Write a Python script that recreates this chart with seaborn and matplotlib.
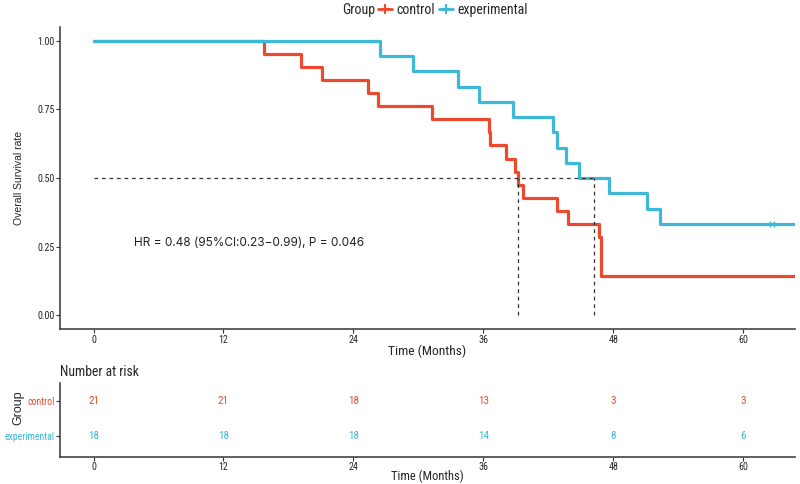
import pandas as pd
import matplotlib
matplotlib.use("Agg")
import matplotlib.pyplot as plt
from matplotlib.lines import Line2D
import seaborn as sns

# Kaplan-Meier step curves (months, survival)
ctrl_time = [0, 15.7, 19.2, 21.1, 25.3, 26.3, 31.3, 36.5, 36.6, 38.1, 38.9, 39.2, 39.7, 42.8, 43.8, 46.7, 46.9, 64.8]
ctrl_surv = [1, .952, .905, .857, .810, .762, .714, .667, .619, .571, .524, .476, .429, .381, .333, .286, .143, .143]
exp_time = [0, 26.5, 29.5, 33.7, 35.6, 38.7, 42.4, 42.8, 43.6, 44.8, 47.6, 51.1, 52.3, 64.8]
exp_surv = [1, .944, .889, .833, .778, .722, .667, .611, .556, .5, .444, .389, .333, .333]
exp_censor = [62.5, 62.8]
medians = [39.2, 46.2]

groups = ["control", "experimental"]
colors = ["#EC4A2F", "#3DB8D8"]
risk_times = [0, 12, 24, 36, 48, 60]
risk_ctrl = [21, 21, 18, 13, 3, 3]
risk_exp = [18, 18, 18, 14, 8, 6]
hr_text = "HR = 0.48 (95%CI:0.23\u22120.99), P = 0.046"

sns.set_style("ticks")
narrow = ['Roboto Condensed', 'Liberation Sans', 'DejaVu Sans']
plain = ['Liberation Sans', 'DejaVu Sans']
plt.rcParams['font.family'] = narrow

km = pd.concat([
    pd.DataFrame({'time': ctrl_time, 'surv': ctrl_surv, 'Group': 'control'}),
    pd.DataFrame({'time': exp_time, 'surv': exp_surv, 'Group': 'experimental'}),
])

fig = plt.figure(figsize=(8, 4.84), dpi=100)
ax = fig.add_axes([0.075, 0.320, 0.919, 0.624])
sns.lineplot(data=km, x='time', y='surv', hue='Group', palette=colors,
             estimator=None, sort=False, drawstyle='steps-post',
             linewidth=2.3, legend=False, ax=ax)
ax.scatter(exp_censor, [exp_surv[-1]] * len(exp_censor), marker='|', s=25,
           color=colors[1], linewidths=1, zorder=3)

# median survival lines
ax.plot([0, max(medians)], [0.5, 0.5], ls=(0, (3, 3)), color='#333333', lw=0.9)
for m in medians:
    ax.plot([m, m], [0, 0.5], ls=(0, (3, 3)), color='#333333', lw=0.9)

ax.text(3.7, 0.265, hr_text, fontsize=8.5, family=['Inter', 'DejaVu Sans'],
        ha='left', va='center', color='#222222')

ax.set_xlim(-3.1, 64.8)
ax.set_ylim(-0.05, 1.05)
ax.set_xticks(risk_times)
ax.set_yticks([0, 0.25, 0.5, 0.75, 1.0])
ax.set_yticklabels(["0.00", "0.25", "0.50", "0.75", "1.00"])
ax.set_xlabel("Time (Months)", fontsize=9.7, labelpad=0)
ax.set_ylabel("Overall Survival rate", fontsize=7.5, family=plain)
ax.yaxis.set_label_coords(-0.049, 0.5)
sns.despine(ax=ax)

# risk table
rt = pd.DataFrame({'time': risk_times * 2,
                   'row': [0] * len(risk_times) + [1] * len(risk_times),
                   'n': risk_ctrl + risk_exp,
                   'Group': ['control'] * len(risk_times) + ['experimental'] * len(risk_times)})
ax2 = fig.add_axes([0.075, 0.056, 0.919, 0.152])
for _, r in rt.iterrows():
    ax2.text(r['time'], r['row'], str(r['n']), ha='center', va='center', fontsize=8,
             color=colors[groups.index(r['Group'])])
ax2.set_xlim(-3.1, 64.8)
ax2.set_ylim(1.6, -0.5)
ax2.set_xticks(risk_times)
ax2.set_yticks([0, 1])
ax2.set_yticklabels(groups)
ax2.set_xlabel("Time (Months)", fontsize=9, labelpad=0)
ax2.xaxis.set_label_coords(0.5, -0.17)
ax2.set_ylabel("Group", fontsize=9, family=plain, fontweight='medium')
ax2.yaxis.set_label_coords(-0.048, 0.674)
ax2.set_title("Number at risk", fontsize=9.8, loc='left', pad=5)
sns.despine(ax=ax2)

for a in [ax, ax2]:
    for s in ['left', 'bottom']:
        a.spines[s].set_color('#444444')
        a.spines[s].set_linewidth(1.2)
    a.tick_params(axis='both', length=3, width=0.8, color='#333333', labelsize=7.2, pad=1)
ax2.tick_params(axis='y', labelsize=7)
for lbl, c in zip(ax2.get_yticklabels(), colors):
    lbl.set_color(c)

# legend on top
fig.text(375 / 800, 1 - 10 / 484, "Group", ha='right', va='center', fontsize=10)
handles = [Line2D([], [], color=c, lw=2, marker='+', markersize=7, markeredgewidth=1.5)
           for c in colors]
fig.legend(handles, groups, loc='center left', bbox_to_anchor=(378 / 800, 1 - 10 / 484),
           ncol=2, frameon=False, fontsize=10, handlelength=1.0, handletextpad=0.3,
           columnspacing=0.3, borderaxespad=0, borderpad=0)

fig.savefig("out.png", dpi=100)
